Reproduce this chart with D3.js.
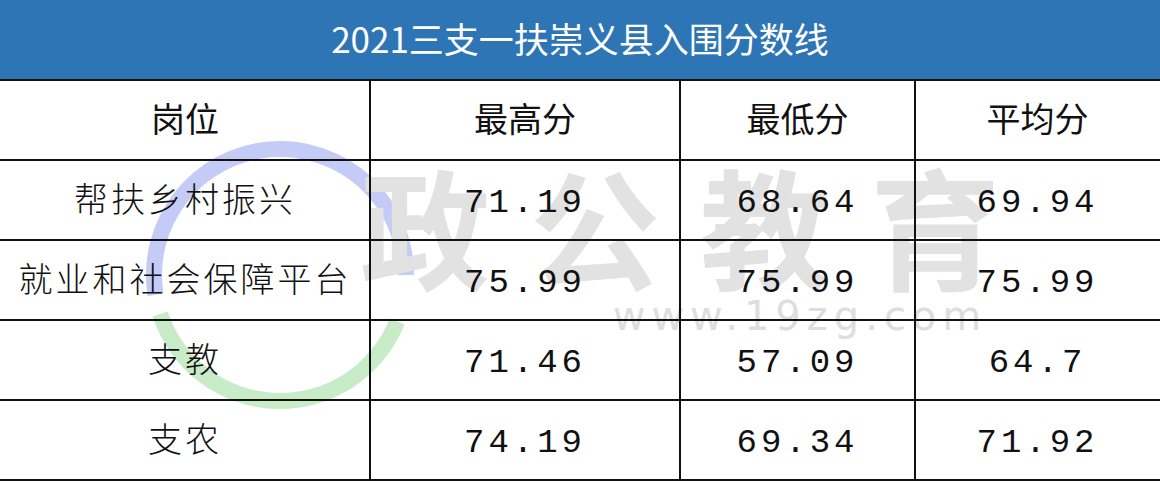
<!DOCTYPE html>
<html><head><meta charset="utf-8">
<script src="https://cdn.jsdelivr.net/npm/d3@7"></script>
<style>body{margin:0;background:#fff}</style>
</head><body>
<svg id="tbl"></svg>
<script>
var title = "2021三支一扶崇义县入围分数线"
var columns = ["岗位", "最高分", "最低分", "平均分"]
var posts = ["帮扶乡村振兴", "就业和社会保障平台", "支教", "支农"]
var maxScore = ["71.19", "75.99", "71.46", "74.19"]
var minScore = ["68.64", "75.99", "57.09", "69.34"]
var avgScore = ["69.94", "75.99", "64.7", "71.92"]

var width = 1160, height = 484
var colEdges = [0, 370, 680, 915, 1160]
var titleH = 80, rowH = 80

var svg = d3.select("#tbl").attr("width", width).attr("height", height)

// faint watermark
var wm = svg.append("g")
wm.append("path").attr("transform", "translate(280,275)")
	.attr("d", d3.arc()({innerRadius: 118, outerRadius: 134, startAngle: -Math.PI * 0.55, endAngle: Math.PI * 0.5}))
	.attr("fill", "#c4cbf7")
wm.append("path").attr("transform", "translate(280,275)")
	.attr("d", d3.arc()({innerRadius: 118, outerRadius: 134, startAngle: Math.PI * 0.62, endAngle: Math.PI * 1.4}))
	.attr("fill", "#c8ecc8")
wm.append("text").attr("x", 800).attr("y", 330).attr("text-anchor", "middle")
	.attr("font-family", "DejaVu Sans").attr("font-size", 40).attr("fill", "#dedede")
	.attr("letter-spacing", 6).text("www.19zg.com")
wm.append("text").attr("x", 700).attr("y", 280).attr("text-anchor", "middle")
	.attr("font-family", "Noto Sans CJK SC").attr("font-weight", "bold").attr("font-size", 130)
	.attr("fill", "#e2e2e2").attr("letter-spacing", 40).text("政公教育")

// title bar
svg.append("rect").attr("x", 0).attr("y", 0).attr("width", width).attr("height", titleH).attr("fill", "#2e75b6")
svg.append("text").attr("x", width / 2).attr("y", titleH / 2 + 13).attr("text-anchor", "middle")
	.attr("font-family", "Noto Sans CJK SC").attr("font-size", 35).attr("fill", "#fff").text(title)

var rows = posts.map((p, i) => [p, maxScore[i], minScore[i], avgScore[i]])

function cx(j) { return (colEdges[j] + colEdges[j + 1]) / 2 }

columns.forEach((c, j) => {
	svg.append("text").attr("x", cx(j)).attr("y", titleH + rowH / 2 + 12).attr("text-anchor", "middle")
		.attr("font-family", "Noto Sans CJK SC").attr("font-size", 34).attr("fill", "#111").text(c)
})

rows.forEach((r, i) => {
	var y = titleH + rowH * (i + 1) + rowH / 2 + 12
	r.forEach((v, j) => {
		svg.append("text").attr("x", cx(j)).attr("y", y).attr("text-anchor", "middle")
			.attr("font-family", j === 0 ? "Noto Sans CJK SC" : "Liberation Mono")
			.attr("font-weight", j === 0 ? 300 : "normal")
			.attr("letter-spacing", j === 0 ? 3 : 4)
			.attr("font-size", 34).attr("fill", "#111").text(v)
	})
})

// grid lines
var g = svg.append("g").attr("stroke", "#111").attr("stroke-width", 2)
d3.range(rows.length + 2).forEach(k => {
	var y = titleH + rowH * k
	g.append("line").attr("x1", 0).attr("x2", width).attr("y1", y).attr("y2", y)
})
colEdges.slice(1, -1).forEach(x => {
	g.append("line").attr("x1", x).attr("x2", x).attr("y1", titleH).attr("y2", titleH + rowH * 5)
})
</script>
</body></html>
